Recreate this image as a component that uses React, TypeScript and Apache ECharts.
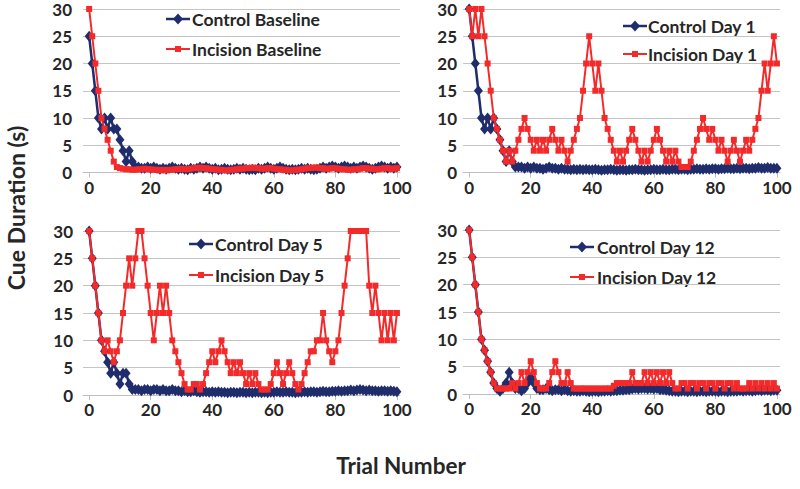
import React, { useEffect, useRef } from "react";
import * as echarts from "echarts";

const trialNumbers: number[] = Array.from({ length: 101 }, (_, i) => i);
const xTickValues = [0, 20, 40, 60, 80, 100];

const controlBaseline = [
  25, 20, 15, 10, 8, 10, 8, 10, 8, 8,
  6, 4, 2, 4, 2, 1, 1, 0.8, 0.8, 1,
  0.8, 1, 0.8, 0.6, 0.8, 0.6, 0.8, 1, 0.8, 0.6,
  0.8, 0.6, 0.5, 0.8, 0.6, 0.8, 1, 0.8, 1, 0.8,
  0.6, 0.8, 0.5, 0.6, 0.8, 0.6, 0.5, 0.6, 0.8, 0.6,
  0.8, 0.6, 0.5, 0.6, 0.5, 0.8, 0.6, 0.8, 1, 0.8,
  0.6, 0.8, 1, 0.8, 0.6, 0.5, 0.6, 0.5, 0.6, 0.8,
  0.6, 0.8, 0.6, 0.5, 0.6, 0.8, 1, 0.8, 1, 1.2,
  1, 0.8, 1, 1.2, 1, 0.8, 1, 0.8, 1, 1.2,
  1, 0.8, 0.6, 0.8, 1, 1.2, 1, 0.8, 1, 0.8,
  1,
];
const incisionBaseline = [
  30, 25, 20, 15, 10, 8, 6, 4, 2, 1,
  0.8, 0.7, 0.6, 0.6, 0.5, 0.5, 0.6, 0.6, 0.7, 0.6,
  0.6, 0.5, 0.5, 0.4, 0.5, 0.4, 0.5, 0.5, 0.6, 0.6,
  0.7, 0.6, 0.6, 0.7, 0.8, 0.8, 0.9, 0.8, 0.8, 0.7,
  0.6, 0.6, 0.5, 0.5, 0.4, 0.4, 0.5, 0.5, 0.6, 0.7,
  0.7, 0.8, 0.8, 0.9, 0.8, 0.8, 0.7, 0.7, 0.8, 0.8,
  0.7, 0.6, 0.6, 0.5, 0.5, 0.4, 0.4, 0.5, 0.5, 0.6,
  0.7, 0.8, 0.8, 0.9, 0.9, 0.8, 0.8, 0.7, 0.7, 0.8,
  0.8, 0.7, 0.6, 0.6, 0.5, 0.5, 0.6, 0.6, 0.7, 0.8,
  0.8, 0.7, 0.7, 0.6, 0.6, 0.7, 0.8, 0.8, 0.7, 0.7,
  0.8,
];
const controlDay1 = [
  30, 25, 20, 15, 10, 8, 10, 8, 10, 8,
  6, 4, 2, 4, 2, 1, 1, 1, 0.8, 1,
  0.8, 1, 0.8, 0.8, 0.6, 0.8, 1, 0.8, 0.8, 0.6,
  0.8, 0.6, 0.6, 0.5, 0.6, 0.5, 0.6, 0.5, 0.6, 0.5,
  0.5, 0.6, 0.5, 0.4, 0.5, 0.5, 0.6, 0.5, 0.4, 0.5,
  0.5, 0.4, 0.5, 0.5, 0.6, 0.5, 0.5, 0.4, 0.5, 0.5,
  0.6, 0.5, 0.5, 0.6, 0.5, 0.5, 0.6, 0.6, 0.5, 0.6,
  0.6, 0.5, 0.6, 0.6, 0.7, 0.6, 0.6, 0.7, 0.6, 0.7,
  0.7, 0.6, 0.7, 0.7, 0.8, 0.7, 0.7, 0.8, 0.7, 0.8,
  0.8, 0.7, 0.8, 0.8, 0.9, 0.8, 0.8, 0.9, 0.8, 0.8,
  0.8,
];
const incisionDay1 = [
  30, 25, 30, 25, 30, 25, 20, 15, 10, 8,
  6, 4, 2, 4, 2, 4, 6, 8, 10, 8,
  6, 4, 6, 4, 6, 4, 6, 8, 6, 4,
  6, 4, 2, 4, 6, 8, 10, 15, 20, 25,
  20, 15, 20, 15, 10, 8, 6, 4, 2, 4,
  2, 4, 6, 8, 6, 4, 2, 4, 2, 4,
  6, 8, 6, 4, 2, 4, 2, 4, 2, 1,
  1, 1, 2, 4, 6, 8, 10, 8, 6, 8,
  6, 4, 6, 4, 2, 4, 6, 4, 2, 4,
  6, 4, 6, 8, 10, 15, 20, 15, 20, 25,
  20,
];
const controlDay5 = [
  30, 25, 20, 15, 10, 8, 6, 4, 6, 4,
  2, 4, 4, 2, 1, 1, 1, 0.8, 1, 1,
  0.8, 1, 1, 0.8, 1, 0.8, 0.8, 1, 0.8, 0.8,
  0.6, 0.8, 0.6, 0.6, 0.8, 0.6, 0.5, 0.6, 0.6, 0.5,
  0.6, 0.5, 0.6, 0.5, 0.5, 0.4, 0.5, 0.5, 0.4, 0.5,
  0.5, 0.4, 0.5, 0.4, 0.5, 0.5, 0.4, 0.5, 0.4, 0.5,
  0.5, 0.6, 0.5, 0.5, 0.6, 0.5, 0.5, 0.4, 0.5, 0.5,
  0.6, 0.5, 0.6, 0.6, 0.5, 0.6, 0.7, 0.6, 0.6, 0.7,
  0.7, 0.8, 0.7, 0.8, 0.8, 0.9, 0.8, 0.9, 1, 0.9,
  0.8, 0.9, 0.8, 0.8, 0.7, 0.8, 0.8, 0.7, 0.8, 0.7,
  0.6,
];
const incisionDay5 = [
  30, 25, 20, 15, 10, 8, 10, 8, 6, 8,
  10, 15, 20, 25, 20, 25, 30, 30, 25, 20,
  15, 10, 15, 20, 15, 20, 15, 10, 8, 6,
  4, 2, 1, 1, 2, 2, 1, 2, 4, 6,
  8, 6, 8, 10, 8, 6, 4, 6, 4, 6,
  4, 2, 4, 2, 4, 2, 1, 1, 1, 2,
  4, 6, 4, 2, 4, 6, 4, 2, 1, 2,
  4, 6, 8, 8, 10, 10, 15, 10, 8, 6,
  8, 10, 15, 20, 25, 30, 30, 30, 30, 30,
  30, 20, 15, 20, 15, 10, 15, 10, 15, 10,
  15,
];
const controlDay12 = [
  30, 25, 20, 15, 10, 8, 6, 4, 2, 1,
  0.5, 1, 2, 4, 2, 1, 1, 0.6, 1, 2,
  3, 2, 1, 0.8, 0.8, 1, 0.8, 0.6, 0.8, 0.8,
  0.6, 0.8, 0.6, 0.5, 0.6, 0.5, 0.5, 0.6, 0.5, 0.4,
  0.5, 0.5, 0.4, 0.5, 0.5, 0.6, 0.5, 0.6, 0.6, 0.7,
  0.7, 0.8, 0.8, 0.9, 1, 0.9, 1, 1, 0.9, 1,
  0.9, 1, 0.8, 0.8, 0.7, 0.6, 0.5, 0.5, 0.4, 0.5,
  0.5, 0.4, 0.5, 0.5, 0.4, 0.5, 0.5, 0.4, 0.5, 0.5,
  0.5, 0.4, 0.5, 0.5, 0.4, 0.5, 0.5, 0.5, 0.6, 0.5,
  0.6, 0.6, 0.5, 0.6, 0.7, 0.6, 0.7, 0.7, 0.6, 0.7,
  0.7,
];
const incisionDay12 = [
  30, 25, 20, 15, 10, 8, 6, 4, 2, 1,
  1, 1, 1, 1, 2, 1, 2, 4, 2, 4,
  6, 4, 2, 1, 1, 1, 2, 4, 6, 4,
  2, 2, 4, 2, 1, 1, 1, 1, 1, 1,
  1, 1, 1, 1, 1, 1, 1, 1.5, 2, 2,
  2, 2, 2, 4, 2, 2, 2, 4, 2, 4,
  2, 4, 2, 4, 2, 4, 2, 1, 1, 2,
  2, 1, 2, 2, 1, 2, 2, 1, 2, 2,
  1, 2, 2, 1, 2, 2, 1, 2, 1, 1,
  1, 2, 1, 2, 1, 2, 1, 2, 1, 2,
  1,
];

const panels = [
  { control: "Control Baseline", incision: "Incision Baseline", cData: controlBaseline, iData: incisionBaseline },
  { control: "Control Day 1", incision: "Incision Day 1", cData: controlDay1, iData: incisionDay1 },
  { control: "Control Day 5", incision: "Incision Day 5", cData: controlDay5, iData: incisionDay5 },
  { control: "Control Day 12", incision: "Incision Day 12", cData: controlDay12, iData: incisionDay12 },
];

const gridBoxes = [
  { left: 83, top: 9, width: 317, height: 163.5 },
  { left: 463, top: 9, width: 317, height: 163.5 },
  { left: 83, top: 231, width: 317, height: 164 },
  { left: 463, top: 230, width: 317, height: 164 },
];
const yLabelMargins = [11, 6, 10, 6];
// legend: sample line start x, text x, row centres
const legendPos = [
  { lx: 166, tx: 192, y1: 19, y2: 49 },
  { lx: 623, tx: 648, y1: 26, y2: 54 },
  { lx: 189, tx: 215, y1: 244, y2: 275 },
  { lx: 570, tx: 597, y1: 247, y2: 277 },
];

const BLUE = "#1f2d6d";
const RED = "#f42a2a";
const TEXT = "#262626";
const FONT = "Lato";

function legendGraphics(): any[] {
  const out: any[] = [];
  panels.forEach((p, i) => {
    const L = legendPos[i];
    const cx = L.lx + 12;
    out.push({
      type: "line",
      shape: { x1: L.lx, y1: L.y1, x2: L.lx + 24, y2: L.y1 },
      style: { stroke: BLUE, lineWidth: 2.5 },
    });
    out.push({
      type: "polygon",
      shape: { points: [[cx, L.y1 - 5.5], [cx + 5, L.y1], [cx, L.y1 + 5.5], [cx - 5, L.y1]] },
      style: { fill: BLUE },
    });
    out.push({
      type: "text",
      x: L.tx,
      y: L.y1,
      style: { text: p.control, font: `bold 17.5px ${FONT}`, fill: TEXT, textVerticalAlign: "middle" },
    });
    out.push({
      type: "line",
      shape: { x1: L.lx, y1: L.y2, x2: L.lx + 24, y2: L.y2 },
      style: { stroke: RED, lineWidth: 2 },
    });
    out.push({
      type: "rect",
      shape: { x: cx - 3, y: L.y2 - 3, width: 6, height: 6 },
      style: { fill: RED },
    });
    out.push({
      type: "text",
      x: L.tx,
      y: L.y2,
      style: { text: p.incision, font: `bold 17.5px ${FONT}`, fill: TEXT, textVerticalAlign: "middle" },
    });
  });
  return out;
}

export default function App() {
  const ref = useRef<HTMLDivElement>(null);
  useEffect(() => {
    if (!ref.current) return;
    const chart = echarts.init(ref.current, undefined, { renderer: "svg" });
    const series: any[] = [];
    panels.forEach((p, i) => {
      series.push({
        type: "line",
        name: p.control,
        xAxisIndex: i,
        yAxisIndex: i,
        data: trialNumbers.map((t) => [t, p.cData[t]]),
        symbol: "diamond",
        symbolSize: [9, 11],
        itemStyle: { color: BLUE },
        lineStyle: { color: BLUE, width: 2.5 },
        z: 2,
      });
      series.push({
        type: "line",
        name: p.incision,
        xAxisIndex: i,
        yAxisIndex: i,
        data: trialNumbers.map((t) => [t, p.iData[t]]),
        symbol: "rect",
        symbolSize: 6,
        itemStyle: { color: RED },
        lineStyle: { color: RED, width: 2 },
        z: 3,
      });
    });
    const option: any = {
      animation: false,
      backgroundColor: "#ffffff",
      textStyle: { fontFamily: FONT },
      grid: gridBoxes.map((g) => ({ ...g, containLabel: false })),
      xAxis: gridBoxes.map((_, i) => ({
        type: "value",
        gridIndex: i,
        min: -2,
        max: 101,
        splitLine: { show: false },
        axisLine: { show: true, onZero: true, lineStyle: { color: "#bfbfbf", width: 1 } },
        axisTick: { show: true, customValues: xTickValues, length: 5, lineStyle: { color: "#bfbfbf" } },
        axisLabel: {
          customValues: xTickValues,
          fontSize: 17,
          fontWeight: "bold",
          color: TEXT,
          fontFamily: FONT,
          margin: 6,
        },
      })),
      yAxis: gridBoxes.map((_, i) => ({
        type: "value",
        gridIndex: i,
        min: 0,
        max: 30,
        interval: 5,
        axisLine: { show: false },
        axisTick: { show: false },
        splitLine: { show: true, lineStyle: { color: "#c4c4c4", width: 1 } },
        axisLabel: {
          fontSize: 17,
          fontWeight: "bold",
          color: TEXT,
          fontFamily: FONT,
          margin: yLabelMargins[i],
        },
      })),
      series,
      graphic: [
        ...legendGraphics(),
        {
          type: "text",
          x: 16,
          y: 208,
          rotation: Math.PI / 2,
          style: {
            text: "Cue Duration (s)",
            font: `bold 23px ${FONT}`,
            fill: TEXT,
            textAlign: "center",
            textVerticalAlign: "middle",
          },
        },
        {
          type: "text",
          x: 401,
          y: 465,
          style: {
            text: "Trial Number",
            font: `bold 22.5px ${FONT}`,
            fill: TEXT,
            textAlign: "center",
            textVerticalAlign: "middle",
          },
        },
      ],
    };
    chart.setOption(option);
    return () => chart.dispose();
  }, []);
  return (
    <div
      ref={ref}
      style={{ position: "absolute", left: 0, top: 0, width: 800, height: 489 }}
    />
  );
}
